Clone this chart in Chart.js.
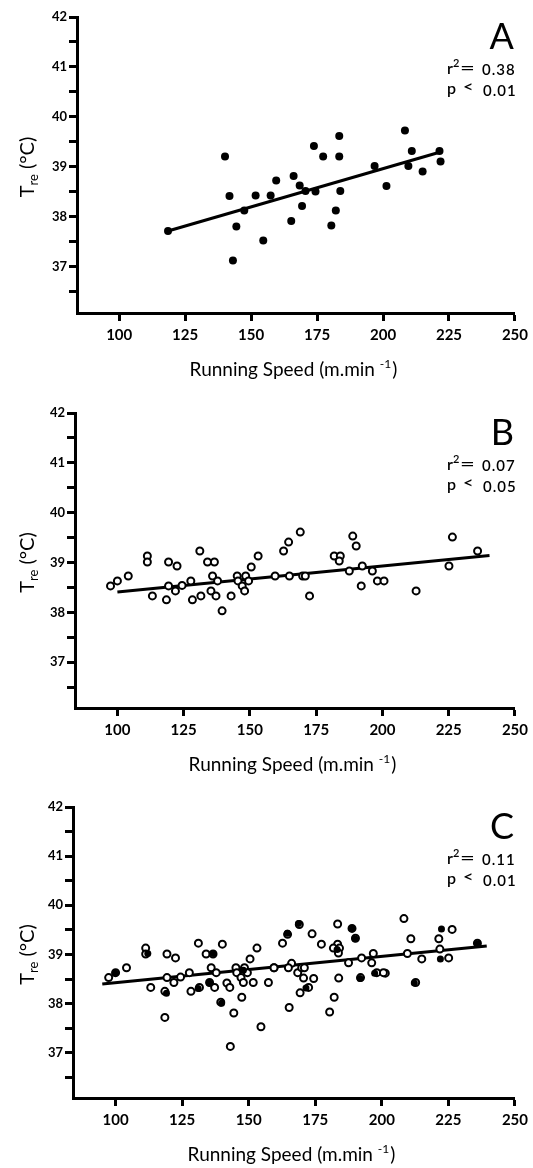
<!DOCTYPE html>
<html>
<head>
<meta charset="utf-8">
<script src="https://cdn.jsdelivr.net/npm/chart.js@4.4.1/dist/chart.umd.min.js"></script>
<style>
    html, body { margin: 0; padding: 0; background: #fff; }
    body { width: 533px; height: 1168px; position: relative; overflow: hidden; }
    .panel { position: absolute; left: 0; width: 533px; }
</style>
</head>
<body>
<div class="panel" style="top:0;height:390px"><canvas id="chartA"></canvas></div>
<div class="panel" style="top:390px;height:390px"><canvas id="chartB"></canvas></div>
<div class="panel" style="top:780px;height:388px"><canvas id="chartC"></canvas></div>
<script>
// axis ticks
const xTicks = [100, 125, 150, 175, 200, 225, 250];
const yTicks = [36.5, 37, 37.5, 38, 38.5, 39, 39.5, 40, 40.5, 41, 41.5, 42];
const yLabelled = [37, 38, 39, 40, 41, 42];

// panel A (filled dots)
const aSpeed = [118.5, 140.1, 141.8, 144.4, 143.1, 147.4, 151.7, 154.6, 157.4, 159.5, 166.1, 165.2, 168.4, 169.3, 170.6,
    173.8, 174.4, 177.3, 180.4, 182.1, 183.4, 183.4, 183.8, 196.8, 201.3, 208.3, 210.9, 209.6, 215.0, 221.4, 221.8];
const aTemp = [37.72, 39.21, 38.42, 37.81, 37.13, 38.13, 38.43, 37.53, 38.43, 38.73, 38.82, 37.92, 38.63, 38.22, 38.52,
    39.42, 38.51, 39.21, 37.83, 38.13, 39.62, 39.21, 38.52, 39.02, 38.62, 39.73, 39.32, 39.02, 38.91, 39.32, 39.11];

// panel B (open circles)
const bSpeed = [97.4, 100.0, 104.1, 111.3, 111.3, 113.2, 119.3, 122.5, 119.3, 118.5, 121.9, 124.4, 127.7, 128.3, 131.5,
    131.1, 134.0, 136.6, 135.9, 135.3, 137.2, 137.8, 139.5, 142.9, 145.2, 145.5, 147.1, 148.0, 148.4, 149.5,
    150.5, 153.1, 159.5, 162.7, 164.6, 164.9, 169.0, 169.9, 170.9, 172.5, 181.8, 184.1, 183.7, 187.5, 188.8,
    190.1, 192.0, 192.4, 196.2, 198.1, 200.6, 212.7, 225.1, 226.4, 235.9];
const bTemp = [38.53, 38.63, 38.73, 39.13, 39.01, 38.33, 39.01, 38.93, 38.53, 38.25, 38.43, 38.54, 38.63, 38.25, 38.33,
    39.23, 39.01, 39.01, 38.73, 38.43, 38.33, 38.63, 38.03, 38.33, 38.73, 38.63, 38.53, 38.43, 38.73, 38.63,
    38.91, 39.13, 38.73, 39.23, 39.41, 38.73, 39.61, 38.73, 38.73, 38.33, 39.13, 39.13, 39.03, 38.83, 39.53,
    39.33, 38.53, 38.93, 38.83, 38.63, 38.63, 38.43, 38.93, 39.51, 39.23];

// panel C: the filled dots seen there (open circles are A and B together)
const cFillSpeed = [99.8, 112.1, 119.1, 131.0, 135.2, 136.7, 139.8, 148.0, 164.5, 168.7, 171.5, 183.2, 188.7, 189.9,
    191.8, 197.3, 212.2, 222.4, 222.0, 236.0];
const cFillTemp = [38.62, 39.02, 38.21, 38.31, 38.42, 39.02, 38.01, 38.68, 39.43, 39.63, 38.32, 39.10, 39.53, 39.32,
    38.51, 38.62, 38.42, 39.52, 38.91, 39.22];

// regression line end points
const regASpeed = [118.5, 222.4], regATemp = [37.72, 39.31];
const regBSpeed = [100.0, 240.4], regBTemp = [38.41, 39.14];
const regCSpeed = [95.0, 239.4], regCTemp = [38.40, 39.17];

const FONT = 'Lato';

function pts(xs, ys) {
    return xs.map((x, i) => ({ x: x, y: ys[i] }));
}

function filled(data, r) {
    return { data: data, pointRadius: r, pointBackgroundColor: '#000', pointBorderWidth: 0, order: 0 };
}
function open(data) {
    return { data: data, pointRadius: 3.5, pointBackgroundColor: '#fff', pointBorderColor: '#000', pointBorderWidth: 2, order: 1 };
}
function regLine(data) {
    return { data: data, showLine: true, pointRadius: 0, borderColor: '#000', borderWidth: 3, order: 2 };
}

// draws a glyph stretched sideways (the scan has wide "=" and "<")
function wideGlyph(ctx, s, x, y, font, sx) {
    ctx.save();
    ctx.font = font;
    ctx.translate(x, y);
    ctx.scale(sx, 1);
    ctx.fillText(s, 0, 0);
    ctx.restore();
}

const panelText = {
    id: 'panelText',
    afterDraw(chart, args, opts) {
        const ctx = chart.ctx, ca = chart.chartArea;
        ctx.save();
        ctx.fillStyle = '#000';
        ctx.textBaseline = 'alphabetic';

        // panel letter
        ctx.textAlign = 'right';
        ctx.font = '36px ' + FONT;
        ctx.fillText(opts.letter, ca.right - 1, ca.top + 32);

        // r2 and p
        ctx.textAlign = 'left';
        const sx = 447;
        ctx.font = '600 16px ' + FONT;
        ctx.fillText('r', sx, ca.top + 57);
        ctx.font = '600 11px ' + FONT;
        ctx.fillText('2', sx + 6, ca.top + 50);
        wideGlyph(ctx, '=', sx + 13, ca.top + 56, '600 16px ' + FONT, 1.6);
        ctx.font = '600 15px ' + FONT;
        ctx.letterSpacing = '1px';
        ctx.fillText(opts.r2, sx + 35, ca.top + 58);
        ctx.letterSpacing = '0px';
        ctx.font = '600 16px ' + FONT;
        ctx.fillText('p', sx, ca.top + 77);
        wideGlyph(ctx, '<', sx + 16, ca.top + 75, '600 15px ' + FONT, 1.2);
        ctx.font = '600 15px ' + FONT;
        ctx.letterSpacing = '1px';
        ctx.fillText(opts.p, sx + 36, ca.top + 79);
        ctx.letterSpacing = '0px';

        // x title
        const t1 = 'Running Speed (m.min', t2 = '-1', t3 = ')';
        ctx.font = '19px ' + FONT;
        const w1 = ctx.measureText(t1 + ' ').width, w3 = ctx.measureText(t3).width;
        ctx.font = '12px ' + FONT;
        const w2 = ctx.measureText(t2).width;
        let x = (ca.left + ca.right) / 2 - 3 - (w1 + w2 + w3) / 2;
        const by = ca.bottom + 63;
        ctx.font = '19px ' + FONT;
        ctx.fillText(t1, x, by);
        ctx.font = '12px ' + FONT;
        ctx.fillText(t2, x + w1, by - 8);
        ctx.font = '19px ' + FONT;
        ctx.fillText(t3, x + w1 + w2 + 1, by);

        // y title, rotated
        ctx.translate(34, (ca.top + ca.bottom) / 2 + 2);
        ctx.rotate(-Math.PI / 2);
        ctx.font = '20px ' + FONT;
        const wt = ctx.measureText('T').width, wc = ctx.measureText(' (°C)').width;
        ctx.font = '13px ' + FONT;
        const ws = ctx.measureText('re').width;
        let lx = -(wt + ws + wc) / 2;
        ctx.font = '20px ' + FONT;
        ctx.fillText('T', lx, 0);
        ctx.font = '13px ' + FONT;
        ctx.fillText('re', lx + wt, 4);
        ctx.font = '20px ' + FONT;
        ctx.fillText(' (°C)', lx + wt + ws, 0);

        ctx.restore();
    }
};

function makePanel(id, p) {
    new Chart(document.getElementById(id), {
        type: 'scatter',
        data: { datasets: p.datasets },
        plugins: [panelText],
        options: {
            responsive: true,
            maintainAspectRatio: false,
            animation: false,
            events: [],
            layout: { autoPadding: false, padding: { top: p.padTop, right: 533 - p.right, bottom: 0, left: 0 } },
            plugins: {
                legend: { display: false },
                tooltip: { enabled: false },
                panelText: { letter: p.letter, r2: p.r2, p: p.p }
            },
            scales: {
                x: {
                    type: 'linear',
                    min: 84,
                    max: 250,
                    afterBuildTicks: s => { s.ticks = xTicks.map(v => ({ value: v })); },
                    afterFit: s => { s.height = p.xAxisH; },
                    border: { display: true, width: 3, color: '#000' },
                    grid: { drawOnChartArea: false, drawTicks: true, tickLength: 8, tickWidth: 3, tickColor: '#000', color: '#000' },
                    ticks: { color: '#000', padding: 5, maxRotation: 0, autoSkip: false, font: { family: FONT, size: 15, weight: 'bold' } }
                },
                y: {
                    type: 'linear',
                    min: 36.08,
                    max: 42,
                    afterBuildTicks: s => { s.ticks = yTicks.map(v => ({ value: v })); },
                    afterFit: s => { s.width = p.left; },
                    border: { display: true, width: 3, color: '#000' },
                    grid: { drawOnChartArea: false, drawTicks: true, tickLength: 8, tickWidth: 3, tickColor: '#000', color: '#000' },
                    ticks: {
                        color: '#000', padding: 2, autoSkip: false,
                        font: { family: FONT, size: 13, weight: 'bold' },
                        callback: v => yLabelled.includes(v) ? String(v) : ''
                    }
                }
            }
        }
    });
}

document.addEventListener("DOMContentLoaded", function () {
    makePanel('chartA', {
        letter: 'A', r2: '0.38', p: '0.01',
        padTop: 17, xAxisH: 77, left: 77, right: 519,
        datasets: [
            filled(pts(aSpeed, aTemp), 4),
            regLine(pts(regASpeed, regATemp))
        ]
    });

    makePanel('chartB', {
        letter: 'B', r2: '0.07', p: '0.05',
        padTop: 23, xAxisH: 72, left: 75, right: 518,
        datasets: [
            open(pts(bSpeed, bTemp)),
            regLine(pts(regBSpeed, regBTemp))
        ]
    });

    makePanel('chartC', {
        letter: 'C', r2: '0.11', p: '0.01',
        padTop: 27, xAxisH: 70, left: 73, right: 516,
        datasets: [
            filled(pts(cFillSpeed, cFillTemp), 3.5),
            open(pts(aSpeed.concat(bSpeed), aTemp.concat(bTemp))),
            regLine(pts(regCSpeed, regCTemp))
        ]
    });
});
</script>
</body>
</html>
